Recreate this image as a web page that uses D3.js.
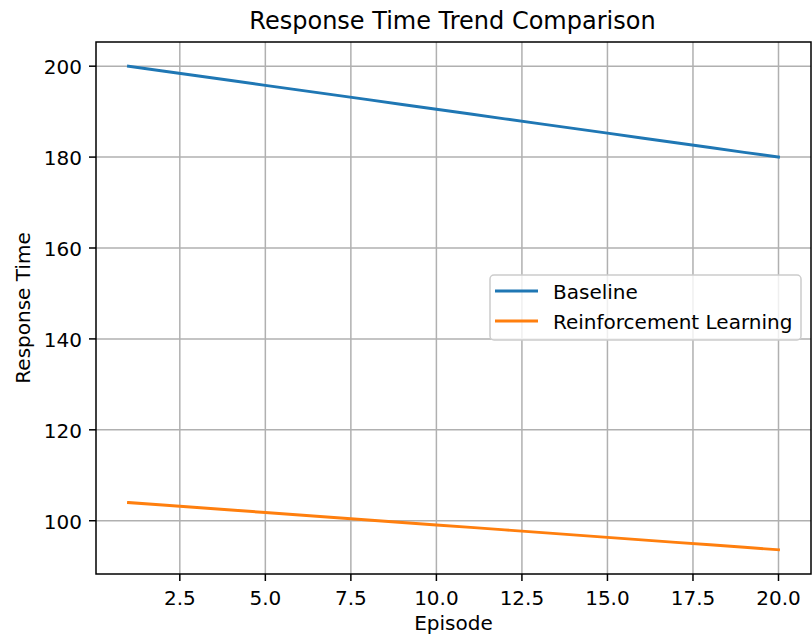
<!DOCTYPE html>
<html><head><meta charset="utf-8">
<script src="https://cdn.jsdelivr.net/npm/d3@7"></script>
<style>body{margin:0;background:#fff}text{font-family:"DejaVu Sans",sans-serif;fill:#000}</style>
</head><body>
<svg id="c" width="812" height="637"></svg>
<script>
const episodes = [1,2,3,4,5,6,7,8,9,10,11,12,13,14,15,16,17,18,19,20];
const baseline = [200,198.95,197.89,196.84,195.79,194.74,193.68,192.63,191.58,190.53,189.47,188.42,187.37,186.32,185.26,184.21,183.16,182.11,181.05,180];
const rl = [104.0,103.45,102.9,102.36,101.81,101.26,100.72,100.17,99.62,99.07,98.53,97.98,97.43,96.89,96.34,95.79,95.24,94.7,94.15,93.6];
const xTicks = [2.5,5.0,7.5,10.0,12.5,15.0,17.5,20.0];
const yTicks = [100,120,140,160,180,200];
const seriesNames = ["Baseline","Reinforcement Learning"];
const colors = ["#1f77b4","#ff7f0e"];

const L=96, R=811, T=42, B=574;
const svg = d3.select("#c");
const x = d3.scaleLinear().domain([0.05,20.95]).range([L,R]);
const y = d3.scaleLinear().domain([88.28,205.32]).range([B,T]);

// grid
const g = svg.append("g");
g.selectAll(".gx").data(xTicks).join("line")
 .attr("x1",d=>x(d)).attr("x2",d=>x(d)).attr("y1",T).attr("y2",B)
 .attr("stroke","#b0b0b0").attr("stroke-width",1.5);
g.selectAll(".gy").data(yTicks).join("line")
 .attr("y1",d=>y(d)).attr("y2",d=>y(d)).attr("x1",L).attr("x2",R)
 .attr("stroke","#b0b0b0").attr("stroke-width",1.5);

// lines
const line = d3.line().x((d,i)=>x(episodes[i])).y(d=>y(d));
[baseline, rl].forEach((s,i)=>{
  svg.append("path").datum(s).attr("d",line).attr("fill","none")
    .attr("stroke",colors[i]).attr("stroke-width",2.9).attr("stroke-linecap","square");
});

// spines
svg.append("rect").attr("x",L).attr("y",T).attr("width",R-L).attr("height",B-T)
 .attr("fill","none").attr("stroke","#000").attr("stroke-width",1.5);

// ticks
svg.selectAll(".tx").data(xTicks).join("line")
 .attr("x1",d=>x(d)).attr("x2",d=>x(d)).attr("y1",B).attr("y2",B+7)
 .attr("stroke","#000").attr("stroke-width",1.5);
svg.selectAll(".lx").data(xTicks).join("text")
 .attr("x",d=>x(d)).attr("y",604.5).attr("text-anchor","middle").attr("font-size",20)
 .text(d=>d.toFixed(1));
svg.selectAll(".ty").data(yTicks).join("line")
 .attr("y1",d=>y(d)).attr("y2",d=>y(d)).attr("x1",L-7).attr("x2",L)
 .attr("stroke","#000").attr("stroke-width",1.5);
svg.selectAll(".ly").data(yTicks).join("text")
 .attr("x",L-14).attr("y",d=>y(d)+7.8).attr("text-anchor","end").attr("font-size",20)
 .text(d=>d);

// labels
svg.append("text").attr("x",(L+R)/2 - 1).attr("y",28.5).attr("text-anchor","middle")
 .attr("font-size",24).text("Response Time Trend Comparison");
svg.append("text").attr("x",(L+R)/2).attr("y",630).attr("text-anchor","middle")
 .attr("font-size",20).text("Episode");
svg.append("text").attr("transform",`translate(30,${(T+B)/2}) rotate(-90)`)
 .attr("text-anchor","middle").attr("font-size",20).text("Response Time");

// legend
const lg = svg.append("g");
lg.append("rect").attr("x",490).attr("y",275).attr("width",311).attr("height",65)
 .attr("rx",4).attr("fill","rgba(255,255,255,0.8)").attr("stroke","#cccccc").attr("stroke-width",1.5);
seriesNames.forEach((n,i)=>{
  const cy = 291 + i*30;
  lg.append("line").attr("x1",495).attr("x2",538).attr("y1",cy).attr("y2",cy)
    .attr("stroke",colors[i]).attr("stroke-width",2.9);
  lg.append("text").attr("x",553).attr("y",cy+7.5).attr("font-size",20).text(n);
});
</script>
</body></html>
